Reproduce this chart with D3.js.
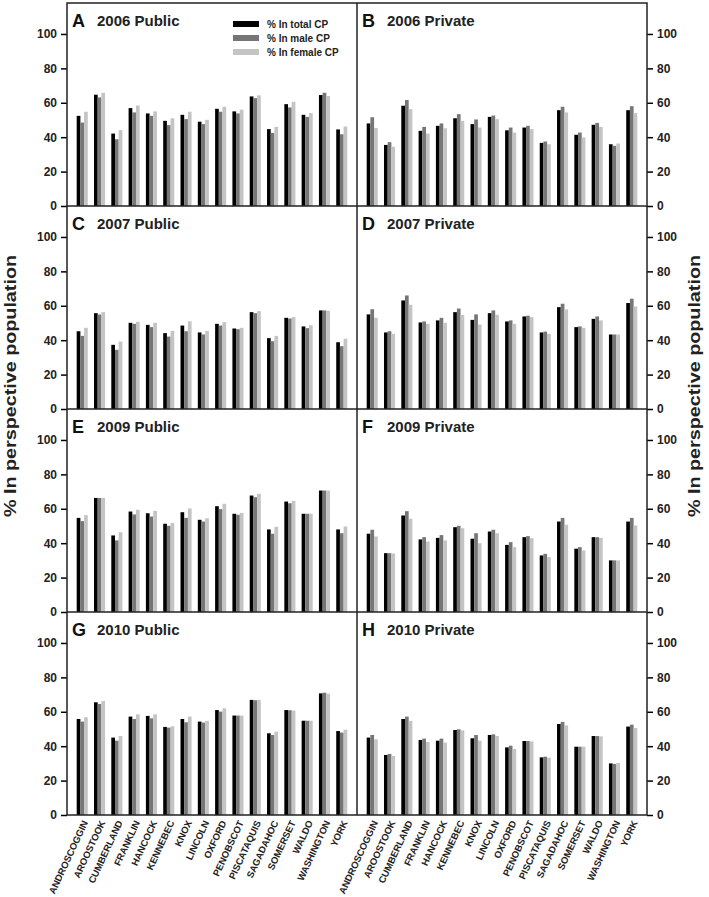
<!DOCTYPE html>
<html>
<head>
<meta charset="utf-8">
<script src="https://cdn.jsdelivr.net/npm/d3@7"></script>
<style>
  body { margin: 0; background: #fff; }
  text { font-family: "Liberation Sans", Arial, sans-serif; font-weight: bold; }
</style>
</head>
<body>
<div id="chart"></div>
<script>
var counties = ['ANDROSCOGGIN', 'AROOSTOOK', 'CUMBERLAND', 'FRANKLIN', 'HANCOCK', 'KENNEBEC', 'KNOX', 'LINCOLN',
  'OXFORD', 'PENOBSCOT', 'PISCATAQUIS', 'SAGADAHOC', 'SOMERSET', 'WALDO', 'WASHINGTON', 'YORK'];
var seriesNames = ['% In total CP', '% In male CP', '% In female CP'];
var panelLetters = ['A', 'B', 'C', 'D', 'E', 'F', 'G', 'H'];
var panelTitles = ['2006 Public', '2006 Private', '2007 Public', '2007 Private',
  '2009 Public', '2009 Private', '2010 Public', '2010 Private'];
var yTicks = [0, 20, 40, 60, 80, 100];

// A - 2006 public
var pub2006Total  = [52.4, 64.7, 42.1, 56.9, 53.8, 49.5, 53.0, 49.0, 56.5, 55.0, 63.7, 44.7, 59.2, 53.0, 64.5, 44.5];
var pub2006Male   = [48.5, 63.1, 38.8, 54.4, 52.4, 47.0, 50.5, 47.6, 54.8, 53.8, 62.7, 42.5, 57.3, 51.8, 65.8, 41.7];
var pub2006Female = [54.8, 65.8, 44.1, 58.4, 55.0, 51.0, 54.8, 50.1, 57.7, 56.0, 64.3, 46.0, 60.6, 54.0, 63.9, 46.2];
// B - 2006 private
var pri2006Total  = [48.0, 35.5, 58.3, 43.7, 46.6, 51.0, 47.6, 51.8, 44.0, 45.6, 36.7, 55.7, 41.4, 47.2, 35.9, 55.7];
var pri2006Male   = [51.6, 37.1, 61.6, 46.0, 48.0, 53.4, 50.3, 52.6, 45.6, 46.6, 37.5, 57.7, 42.7, 48.3, 35.0, 58.0];
var pri2006Female = [45.4, 34.4, 56.3, 42.1, 45.2, 49.5, 45.6, 50.5, 42.7, 44.7, 35.9, 54.4, 39.8, 46.0, 36.3, 54.0];
// C - 2007 public
var pub2007Total  = [45.2, 55.7, 37.3, 50.1, 48.9, 44.1, 48.5, 44.5, 49.5, 46.8, 56.3, 41.2, 53.0, 48.0, 57.3, 38.8];
var pub2007Male   = [42.5, 54.9, 34.4, 49.5, 47.6, 42.1, 45.2, 43.3, 48.5, 46.4, 55.7, 39.4, 52.6, 47.0, 57.3, 36.5];
var pub2007Female = [47.2, 56.3, 39.2, 50.7, 50.1, 45.4, 51.0, 45.4, 50.5, 47.2, 56.9, 42.5, 53.4, 48.7, 57.1, 40.8];
// D - 2007 private
var pri2007Total  = [55.0, 44.5, 63.1, 50.3, 51.5, 56.3, 51.8, 55.7, 50.9, 53.8, 44.5, 59.2, 47.6, 52.4, 43.3, 61.6];
var pri2007Male   = [58.0, 45.2, 66.0, 50.9, 53.0, 58.4, 55.0, 57.3, 51.5, 54.2, 45.0, 61.2, 48.0, 53.8, 43.3, 64.1];
var pri2007Female = [53.0, 43.7, 60.6, 49.5, 50.1, 54.6, 49.1, 54.8, 49.5, 53.4, 43.7, 57.9, 47.2, 51.5, 43.3, 59.6];
// E - 2009 public
var pub2009Total  = [54.7, 66.3, 44.5, 58.4, 57.4, 51.3, 58.0, 53.6, 61.5, 57.1, 67.7, 48.0, 64.2, 57.1, 70.6, 48.0];
var pub2009Male   = [52.8, 66.3, 41.6, 56.7, 55.5, 50.1, 54.7, 52.6, 59.8, 56.5, 66.7, 45.5, 63.2, 57.1, 70.6, 45.8];
var pub2009Female = [56.3, 66.3, 46.4, 59.4, 58.8, 51.8, 60.2, 54.5, 62.9, 57.6, 68.7, 49.5, 64.6, 57.1, 70.6, 49.7];
// F - 2009 private
var pri2009Total  = [45.5, 34.2, 56.1, 42.2, 43.1, 49.3, 42.6, 46.8, 39.0, 43.5, 32.9, 52.6, 36.8, 43.5, 30.0, 52.6];
var pri2009Male   = [47.8, 34.2, 58.6, 43.5, 44.7, 50.1, 45.8, 47.8, 40.6, 44.1, 33.8, 54.7, 37.7, 43.5, 30.0, 54.7];
var pri2009Female = [43.9, 34.0, 54.2, 41.0, 41.6, 48.7, 40.0, 45.8, 37.7, 42.9, 31.9, 50.7, 35.8, 43.1, 30.0, 50.3];
// G - 2010 public
var pub2010Total  = [55.8, 65.5, 45.0, 57.2, 57.6, 51.2, 55.8, 54.3, 61.0, 57.8, 66.9, 47.5, 61.0, 54.8, 70.7, 48.8];
var pub2010Male   = [54.3, 64.5, 43.2, 55.8, 56.2, 50.8, 53.9, 53.7, 60.1, 57.8, 66.7, 46.5, 60.9, 54.8, 71.1, 47.9];
var pub2010Female = [56.8, 66.3, 45.9, 58.5, 58.5, 51.6, 57.2, 54.7, 62.0, 57.8, 66.9, 48.4, 60.7, 54.8, 70.5, 49.6];
// H - 2010 private
var pri2010Total  = [45.0, 34.9, 55.8, 43.6, 43.2, 49.4, 44.6, 46.5, 39.3, 43.0, 33.5, 52.9, 39.7, 45.9, 30.0, 51.4];
var pri2010Male   = [46.5, 35.5, 57.2, 44.4, 44.4, 49.8, 46.5, 46.9, 40.3, 43.0, 33.9, 54.1, 39.7, 45.9, 29.7, 52.5];
var pri2010Female = [44.0, 34.3, 54.7, 42.4, 42.1, 49.2, 43.2, 45.9, 38.4, 42.8, 33.3, 52.1, 39.7, 45.7, 30.2, 50.6];

var panelSeries = [
  [pub2006Total, pub2006Male, pub2006Female], [pri2006Total, pri2006Male, pri2006Female],
  [pub2007Total, pub2007Male, pub2007Female], [pri2007Total, pri2007Male, pri2007Female],
  [pub2009Total, pub2009Male, pub2009Female], [pri2009Total, pri2009Male, pri2009Female],
  [pub2010Total, pub2010Male, pub2010Female], [pri2010Total, pri2010Male, pri2010Female]
];

var width = 709;
var height = 897;
var frame = { left: 67, top: 3, right: 647, bottom: 815 };
var panelW = (frame.right - frame.left) / 2;
var rowH = (frame.bottom - frame.top) / 4;
var colors = ['#000000', '#767676', '#c4c4c4'];

var svg = d3.select('#chart')
  .append('svg')
  .attr('width', width)
  .attr('height', height)
  .attr('viewBox', [0, 0, width, height]);

var x0 = d3.scaleBand()
  .domain(counties)
  .range([0, panelW])
  .paddingInner(0.36)
  .paddingOuter(0.56);

var x1 = d3.scaleBand()
  .domain(d3.range(seriesNames.length))
  .range([0, x0.bandwidth()]);

var y = d3.scaleLinear()
  .domain([0, 118])
  .range([rowH, 0]);

panelSeries.forEach(function (series, i) {
  var col = i % 2, row = Math.floor(i / 2);
  var g = svg.append('g')
    .attr('transform', `translate(${frame.left + col * panelW}, ${frame.top + row * rowH})`);

  // bars, one group per county
  g.append('g')
    .selectAll('g')
    .data(counties)
    .join('g')
    .attr('transform', d => `translate(${x0(d)}, 0)`)
    .selectAll('rect')
    .data((d, j) => series.map((s, k) => ({ k: k, v: s[j] })))
    .join('rect')
    .attr('x', d => x1(d.k))
    .attr('y', d => y(d.v))
    .attr('width', x1.bandwidth())
    .attr('height', d => y(0) - y(d.v))
    .attr('fill', d => colors[d.k]);

  // y axis, left on left column, right on right column
  var ax = col === 0 ? d3.axisLeft(y) : d3.axisRight(y);
  g.append('g')
    .attr('transform', `translate(${col === 0 ? 0 : panelW}, 0)`)
    .call(ax.tickValues(yTicks).tickSize(6).tickSizeOuter(0).tickPadding(4))
    .call(a => a.select('.domain').remove())
    .call(a => a.selectAll('line').attr('stroke', '#000').attr('stroke-width', 1.5))
    .call(a => a.selectAll('text').attr('font-size', '12px').attr('fill', '#222')
      .style('font-family', '"Liberation Sans", Arial, sans-serif').style('font-weight', 'bold'));

  // x axis labels only on bottom row
  if (row === 3) {
    g.append('g')
      .attr('transform', `translate(0, ${rowH})`)
      .call(d3.axisBottom(x0).tickSize(0))
      .call(a => a.select('.domain').remove())
      .call(a => a.selectAll('text')
        .attr('x', 0).attr('y', 0).attr('dy', '0.35em')
        .attr('transform', 'translate(3, 6) rotate(-65)')
        .attr('text-anchor', 'end')
        .attr('font-size', '9.5px')
        .attr('fill', '#222')
        .style('font-family', '"Liberation Sans", Arial, sans-serif').style('font-weight', 'bold'));
  }

  // panel letter and title
  g.append('text')
    .attr('x', 5).attr('y', 24)
    .attr('font-size', '18px')
    .attr('fill', '#111')
    .text(panelLetters[i]);
  g.append('text')
    .attr('x', 30).attr('y', 23)
    .attr('font-size', '15px')
    .attr('fill', '#222')
    .text(panelTitles[i]);
});

// frame and panel separators
svg.append('rect')
  .attr('x', frame.left).attr('y', frame.top)
  .attr('width', frame.right - frame.left).attr('height', frame.bottom - frame.top)
  .attr('fill', 'none').attr('stroke', '#222').attr('stroke-width', 1.5);
svg.append('line')
  .attr('x1', frame.left + panelW).attr('x2', frame.left + panelW)
  .attr('y1', frame.top).attr('y2', frame.bottom)
  .attr('stroke', '#222').attr('stroke-width', 1.5);
svg.append('g')
  .selectAll('line')
  .data([1, 2, 3])
  .join('line')
  .attr('x1', frame.left).attr('x2', frame.right)
  .attr('y1', d => frame.top + d * rowH).attr('y2', d => frame.top + d * rowH)
  .attr('stroke', '#222').attr('stroke-width', 1.5);

// legend in panel A
var legend = svg.append('g')
  .attr('transform', 'translate(233, 24)')
  .selectAll('g')
  .data(seriesNames)
  .join('g')
  .attr('transform', (d, i) => `translate(0, ${i * 14})`);
legend.append('rect')
  .attr('x', 0).attr('y', -3)
  .attr('width', 26).attr('height', 6)
  .attr('fill', (d, i) => colors[i]);
legend.append('text')
  .attr('x', 34).attr('dy', '0.35em')
  .attr('font-size', '10px')
  .attr('fill', '#222')
  .text(d => d);

// y axis titles, both sides (stretched along the axis like the original)
var midY = 386;
[16, 700].forEach(function (tx) {
  svg.append('text')
    .attr('transform', `translate(${tx}, ${midY}) rotate(-90)`)
    .attr('text-anchor', 'middle')
    .attr('font-size', '16px')
    .attr('textLength', 262)
    .attr('lengthAdjust', 'spacingAndGlyphs')
    .attr('fill', '#222')
    .text('% In perspective population');
});
</script>
</body>
</html>
